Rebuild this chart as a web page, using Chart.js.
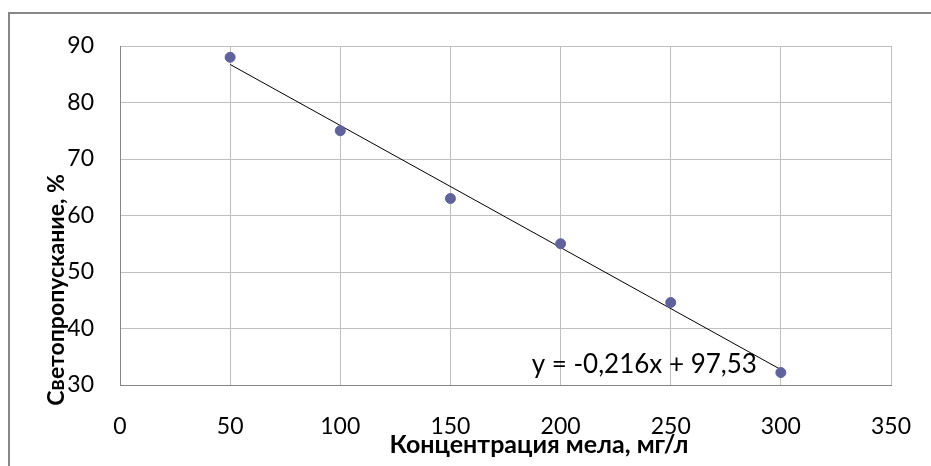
<!DOCTYPE html>
<html>
<head>
<meta charset="utf-8">
<script src="https://cdn.jsdelivr.net/npm/chart.js@4"></script>
<style>
  html, body { margin: 0; padding: 0; background: #fff; }
  #wrap { width: 931px; height: 466px; }
</style>
</head>
<body>
<div id="wrap"><canvas id="scatter" width="931" height="466"></canvas></div>
<script>
// data
var concentration = [50, 100, 150, 200, 250, 300];
var transmission = [88, 75, 63, 55, 44.6, 32.2];
var trendX = [50, 300];
var slope = -0.216, intercept = 97.53;
var trendY = trendX.map(function (x) { return slope * x + intercept; });
var equationText = "y = -0,216x + 97,53";
var equationAt = { x: 238, y: 33.6 };

var font = "Lato, 'Open Sans', sans-serif";

var frame = {
  id: "frame",
  beforeDraw: function (chart) {
    var c = chart.ctx;
    c.save();
    c.fillStyle = "#fff";
    c.fillRect(0, 0, chart.width, chart.height);
    c.strokeStyle = "#878787";
    c.lineWidth = 2;
    c.strokeRect(9, 13, 940, 470);
    c.restore();
  },
  afterDraw: function (chart) {
    var c = chart.ctx, sx = chart.scales.x, sy = chart.scales.y;
    c.save();
    c.fillStyle = "#000";
    c.font = "26px " + font;
    c.textAlign = "center";
    c.textBaseline = "middle";
    c.fillText(equationText, sx.getPixelForValue(equationAt.x), sy.getPixelForValue(equationAt.y));
    c.font = "bold 25px " + font;
    c.fillText("Концентрация мела, мг/л", 539, 445);
    c.font = "bold 23px " + font;
    c.translate(57, 290);
    c.rotate(-Math.PI / 2);
    c.fillText("Светопропускание, %", 0, 0);
    c.restore();
  }
};

var ctx = document.getElementById("scatter").getContext("2d");
var myChart = new Chart(ctx, {
  type: "scatter",
  data: {
    datasets: [
      {
        label: "data",
        data: concentration.map(function (x, i) { return { x: x, y: transmission[i] }; }),
        backgroundColor: "rgba(96, 99, 155, 1)",
        borderColor: "rgba(96, 99, 155, 1)",
        pointRadius: 5,
        pointHoverRadius: 5,
        order: 1,
      },
      {
        label: "trend",
        type: "line",
        data: trendX.map(function (x, i) { return { x: x, y: trendY[i] }; }),
        borderColor: "#000",
        borderWidth: 1,
        pointRadius: 0,
        fill: false,
        order: 2,
      },
    ],
  },
  options: {
    responsive: false,
    animation: false,
    layout: { padding: { left: 0, top: 46, right: 40, bottom: 0 } },
    plugins: { legend: { display: false }, tooltip: { enabled: false } },
    scales: {
      x: {
        type: "linear",
        min: 0,
        max: 350,
        ticks: { stepSize: 50, color: "#000", padding: 28, font: { family: font, size: 23 } },
        grid: { color: "#c0c0c0", drawTicks: false },
        border: { color: "#868686" },
        afterFit: function (s) { s.height = 81; s.paddingLeft = 0; s.paddingRight = 0; },
      },
      y: {
        min: 30,
        max: 90,
        ticks: { stepSize: 10, color: "#000", padding: 26, font: { family: font, size: 23 } },
        grid: { color: "#c0c0c0", drawTicks: false },
        border: { color: "#868686" },
        afterFit: function (s) { s.width = 120; s.paddingTop = 0; s.paddingBottom = 0; },
      },
    },
  },
  plugins: [frame],
});
</script>
</body>
</html>
